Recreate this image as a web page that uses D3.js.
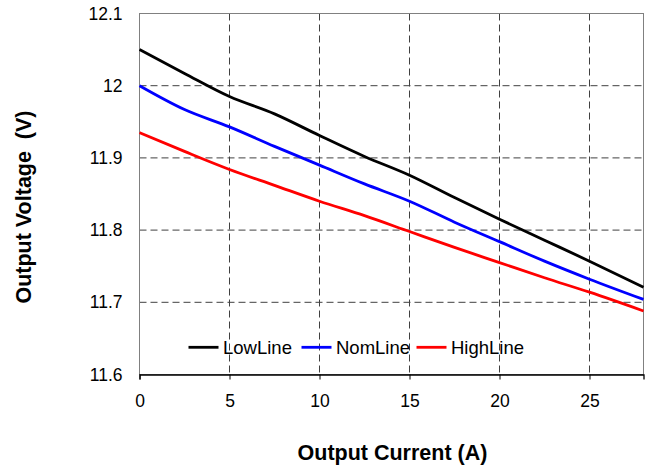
<!DOCTYPE html>
<html>
<head>
<meta charset="utf-8">
<script src="https://cdn.jsdelivr.net/npm/d3@7"></script>
<style>
  html, body { margin: 0; padding: 0; background: #fff; }
  svg { display: block; font-family: "Liberation Sans", Arial, sans-serif; }
</style>
</head>
<body>
<svg id="chart" width="647" height="470"></svg>
<script>
// Output current (A) sample points
const current = [0, 2.5, 5, 7.5, 10, 12.5, 15, 17.5, 20, 22.5, 25, 28];
// Output voltage (V) for each input line condition
const lowLine  = [12.050, 12.017, 11.985, 11.961, 11.931, 11.902, 11.876, 11.845, 11.815, 11.786, 11.757, 11.721];
const nomLine  = [12.000, 11.967, 11.943, 11.916, 11.890, 11.864, 11.840, 11.811, 11.784, 11.757, 11.732, 11.704];
const highLine = [11.935, 11.909, 11.884, 11.862, 11.840, 11.820, 11.798, 11.776, 11.755, 11.734, 11.714, 11.688];

const seriesNames  = ["LowLine", "NomLine", "HighLine"];
const seriesColors = ["#000000", "#0000ff", "#ff0000"];
const seriesValues = [lowLine, nomLine, highLine];

const xTicks = [0, 5, 10, 15, 20, 25];
const yTicks = [11.6, 11.7, 11.8, 11.9, 12.0, 12.1];
const yTickLabels = ["11.6", "11.7", "11.8", "11.9", "12", "12.1"];

const margin = { left: 139.5, top: 13.5, right: 643.5, bottom: 374.5 };
const tickFont = 17.5;
const titleFont = 21.5;

const svg = d3.select("#chart");
const x = d3.scaleLinear().domain([0, 28]).range([margin.left, margin.right]);
const y = d3.scaleLinear().domain([11.6, 12.1]).range([margin.bottom, margin.top]);

// dashed grid
const grid = svg.append("g").attr("stroke", "#404040").attr("stroke-width", 1)
  .attr("stroke-dasharray", "7,4").attr("fill", "none");
xTicks.filter(d => d > 0).forEach(d => {
  grid.append("line").attr("x1", x(d)).attr("x2", x(d))
    .attr("y1", margin.top).attr("y2", margin.bottom);
});
yTicks.filter(d => d > 11.6 && d < 12.1).forEach(d => {
  grid.append("line").attr("x1", margin.left).attr("x2", margin.right)
    .attr("y1", y(d)).attr("y2", y(d));
});

// plot frame
svg.append("rect")
  .attr("x", margin.left).attr("y", margin.top)
  .attr("width", margin.right - margin.left).attr("height", margin.bottom - margin.top)
  .attr("fill", "none").attr("stroke", "#808080").attr("stroke-width", 1);

// bottom axis
const xAxis = svg.append("g").attr("transform", `translate(0,${margin.bottom})`)
  .call(d3.axisBottom(x).tickValues(xTicks).tickSize(5).tickPadding(15.5).tickFormat(d3.format("d")));
xAxis.select(".domain").attr("stroke", "#000").attr("stroke-width", 1.3);
xAxis.selectAll(".tick line").attr("stroke", "#000");
xAxis.selectAll("text").attr("font-size", tickFont).attr("fill", "#000")
  .attr("font-family", "Liberation Sans, Arial, sans-serif");

// left axis
const yAxis = svg.append("g").attr("transform", `translate(${margin.left},0)`)
  .call(d3.axisLeft(y).tickValues(yTicks).tickSize(0).tickPadding(17)
    .tickFormat((d, i) => yTickLabels[i]));
yAxis.select(".domain").remove();
yAxis.selectAll("text").attr("font-size", tickFont).attr("fill", "#000")
  .attr("font-family", "Liberation Sans, Arial, sans-serif");

// curves
const line = d3.line().x((d, i) => x(current[i])).y(d => y(d)).curve(d3.curveMonotoneX);
const plot = svg.append("g");
seriesValues.forEach((vals, k) => {
  plot.append("path").datum(vals)
    .attr("d", line)
    .attr("fill", "none")
    .attr("stroke", seriesColors[k])
    .attr("stroke-width", 2.8);
});

// legend
const legendX = [188.5, 301.5, 416.5];
const legendY = 347.3;
seriesNames.forEach((name, k) => {
  const g = svg.append("g");
  g.append("line").attr("x1", legendX[k]).attr("x2", legendX[k] + 30)
    .attr("y1", legendY).attr("y2", legendY)
    .attr("stroke", seriesColors[k]).attr("stroke-width", 2.8);
  g.append("text").attr("x", legendX[k] + 34.5).attr("y", legendY)
    .attr("dy", "0.36em").attr("font-size", 18.5).attr("fill", "#000").text(name);
});

// axis titles
svg.append("text").attr("x", 392.5).attr("y", 460)
  .attr("text-anchor", "middle").attr("font-size", titleFont).attr("font-weight", "bold")
  .text("Output Current (A)");
svg.append("text").attr("transform", "translate(31,207) rotate(-90)")
  .attr("text-anchor", "middle").attr("font-size", titleFont).attr("font-weight", "bold")
  .attr("xml:space", "preserve")
  .text("Output Voltage  (V)");
</script>
</body>
</html>
